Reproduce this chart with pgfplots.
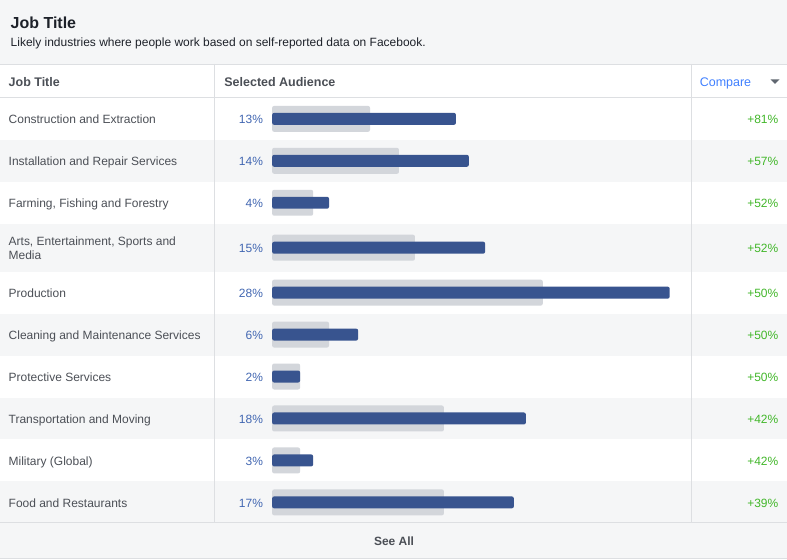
\documentclass[border=0pt]{standalone}
\usepackage{pgfplots}
\pgfplotsset{compat=1.18}
\usepackage{fontspec}
\setmainfont{Liberation Sans}
\definecolor{bgGray}{HTML}{F5F6F7}
\definecolor{lineGray}{HTML}{DDDFE2}
\definecolor{titleC}{HTML}{1D2129}
\definecolor{textC}{HTML}{4B4F56}
\definecolor{pctBlue}{HTML}{4267B2}
\definecolor{cmpBlue}{HTML}{4080FF}
\definecolor{upGreen}{HTML}{42B72A}
\definecolor{barBlue}{RGB}{56,84,143}
\definecolor{barGray}{RGB}{211,214,219}
\definecolor{triC}{HTML}{606770}
\begin{document}
\begin{tikzpicture}[x=1pt,y=-1pt]
% backgrounds
\fill[bgGray] (0,0) rectangle (787,560);
\fill[white] (0,64) rectangle (787,98);
\foreach \a/\b in {98/140,182/224,272/314,356/398,440/482}
  \fill[white] (0,\a) rectangle (787,\b);
% lines
\draw[lineGray, line width=1pt] (0,64.5) -- (787,64.5);
\draw[lineGray, line width=1pt] (0,97.5) -- (787,97.5);
\draw[lineGray, line width=1pt] (0,523.5) -- (787,523.5);
\draw[lineGray, line width=1pt] (0,559) -- (787,559);
\draw[lineGray, line width=1pt] (214.5,64) -- (214.5,524);
\draw[lineGray, line width=1pt] (691.5,64) -- (691.5,524);
% title
\node[anchor=base west, inner sep=0, font=\fontsize{16}{19}\selectfont\bfseries, text=titleC] at (10,29) {Job Title};
\node[anchor=base west, inner sep=0, font=\fontsize{12}{14}\selectfont, text=titleC] at (10,46.8) {Likely industries where people work based on self-reported data on Facebook.};
% header
\node[anchor=base west, inner sep=0, font=\fontsize{12.5}{14}\selectfont\bfseries, text=textC] at (8,86.8) {Job Title};
\node[anchor=base west, inner sep=0, font=\fontsize{12.5}{14}\selectfont\bfseries, text=textC] at (224,86.8) {Selected Audience};
\node[anchor=base west, inner sep=0, font=\fontsize{12.5}{14}\selectfont, text=cmpBlue] at (700,86.8) {Compare};
\fill[triC] (771,79.5) -- (780,79.5) -- (775.5,84) -- cycle;
% row labels
\foreach \y/\t in {123.8/Construction and Extraction,165.8/Installation and Repair Services,207.8/{Farming, Fishing and Forestry},245.8/{Arts, Entertainment, Sports and},259.8/Media,297.8/Production,339.8/Cleaning and Maintenance Services,381.8/Protective Services,423.8/Transportation and Moving,465.8/Military (Global),507.8/Food and Restaurants}
  \node[anchor=base west, inner sep=0, font=\fontsize{12}{14}\selectfont, text=textC] at (8,\y) {\t};
\foreach \y/\t in {123.8/13,165.8/14,207.8/4,252.8/15,297.8/28,339.8/6,381.8/2,423.8/18,465.8/3,507.8/17}
  \node[anchor=base east, inner sep=0, font=\fontsize{12}{14}\selectfont, text=pctBlue] at (263,\y) {\t\%};
\foreach \y/\t in {123.8/81,165.8/57,207.8/52,252.8/52,297.8/50,339.8/50,381.8/50,423.8/42,465.8/42,507.8/39}
  \node[anchor=base east, inner sep=0, font=\fontsize{12}{14}\selectfont, text=upGreen] at (779,\y) {+\t\%};
\node[anchor=base, inner sep=0, font=\fontsize{12}{14}\selectfont\bfseries, text=textC] at (394,546.5) {See All};
% bars
\begin{axis}[at={(0,0)}, anchor=north west, scale only axis, width=787pt, height=560pt,
  xmin=-19.1549, xmax=36.2676, ymin=0, ymax=560, y dir=reverse,
  hide axis, clip=false, xbar, bar shift=0pt]
\addplot[fill=barGray, draw=none, bar width=26pt, rounded corners=2pt] coordinates {
(6.90,119) (8.94,161) (2.89,203) (10.07,248) (19.08,293) (4.01,335) (1.97,377) (12.11,419) (1.97,461) (12.11,503)};
\addplot[fill=barBlue, draw=none, bar width=12pt, rounded corners=2pt] coordinates {
(12.96,119) (13.87,161) (4.01,203) (15.02,248) (28.03,293) (6.06,335) (1.97,377) (17.89,419) (2.89,461) (17.04,503)};
\end{axis}
\end{tikzpicture}
\end{document}
